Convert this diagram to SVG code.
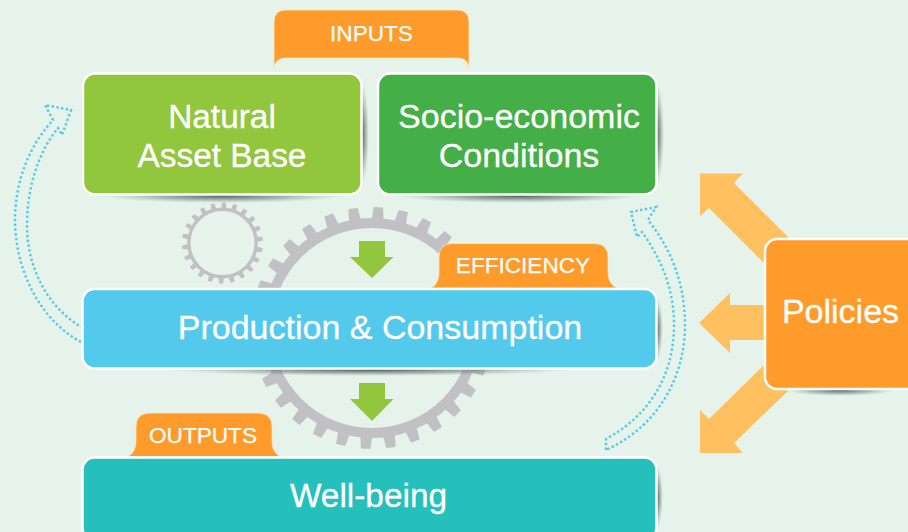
<svg xmlns="http://www.w3.org/2000/svg" xmlns:xlink="http://www.w3.org/1999/xlink" width="908" height="532" viewBox="0 0 908 532">
<style>
.box{stroke:#fff;stroke-width:2.5}
.tab{fill:#ff9b2b;stroke:#f7e6c8;stroke-width:.8}
.big{font:34px "Liberation Sans",Arial,sans-serif;fill:#fff;stroke:#fff;stroke-width:.3;text-anchor:middle}
.mid{font-size:33.4px}
.small{font:22.6px "Liberation Sans",Arial,sans-serif;fill:#fff;stroke:#fff;stroke-width:.25;text-anchor:middle}
.gear{fill:#c1c0c4}
.ring{fill:none;stroke:#c1c0c4}
.dot{fill:none;stroke:#53c9ec;stroke-width:2.4;stroke-dasharray:2.4 2.4}
.pol{fill:#ffc05f}
.down{fill:#92c73d}
.sh{fill:url(#shade)}
</style>
<defs>
<radialGradient id="shade"><stop offset="0" stop-color="#4d5c5c" stop-opacity=".95"/><stop offset=".55" stop-color="#6b7a78" stop-opacity=".5"/><stop offset="1" stop-color="#8a9a94" stop-opacity="0"/></radialGradient>
<polygon id="t1" points="-6,-108 6,-108 4.700,-121 -4.700,-121"/>
<polygon id="t2" points="-2.500,-35 2.500,-35 2,-40.5 -2,-40.5"/>
</defs>
<rect width="908" height="532" fill="#e6f3ea"/>
<g id="gear-small">
<circle class="ring" cx="222.5" cy="243" r="33.7" stroke-width="3.4"/>
<g class="gear" transform="translate(222.5 243)">
<use xlink:href="#t2" transform="rotate(2)"/><use xlink:href="#t2" transform="rotate(18.4)"/><use xlink:href="#t2" transform="rotate(34.7)"/><use xlink:href="#t2" transform="rotate(51)"/><use xlink:href="#t2" transform="rotate(67.5)"/><use xlink:href="#t2" transform="rotate(83.8)"/><use xlink:href="#t2" transform="rotate(100.2)"/><use xlink:href="#t2" transform="rotate(116.5)"/><use xlink:href="#t2" transform="rotate(133)"/><use xlink:href="#t2" transform="rotate(149.3)"/><use xlink:href="#t2" transform="rotate(165.6)"/><use xlink:href="#t2" transform="rotate(182)"/><use xlink:href="#t2" transform="rotate(198.4)"/><use xlink:href="#t2" transform="rotate(214.7)"/><use xlink:href="#t2" transform="rotate(231)"/><use xlink:href="#t2" transform="rotate(247.5)"/><use xlink:href="#t2" transform="rotate(263.8)"/><use xlink:href="#t2" transform="rotate(280.2)"/><use xlink:href="#t2" transform="rotate(296.5)"/><use xlink:href="#t2" transform="rotate(313)"/><use xlink:href="#t2" transform="rotate(329.3)"/><use xlink:href="#t2" transform="rotate(345.6)"/>
</g>
</g>
<g id="gear-large">
<circle class="ring" cx="372" cy="328" r="105" stroke-width="10"/>
<g class="gear" transform="translate(372 328)">
<use xlink:href="#t1" transform="rotate(3)"/><use xlink:href="#t1" transform="rotate(15)"/><use xlink:href="#t1" transform="rotate(27)"/><use xlink:href="#t1" transform="rotate(39)"/><use xlink:href="#t1" transform="rotate(51)"/><use xlink:href="#t1" transform="rotate(63)"/><use xlink:href="#t1" transform="rotate(75)"/><use xlink:href="#t1" transform="rotate(87)"/><use xlink:href="#t1" transform="rotate(99)"/><use xlink:href="#t1" transform="rotate(111)"/><use xlink:href="#t1" transform="rotate(123)"/><use xlink:href="#t1" transform="rotate(135)"/><use xlink:href="#t1" transform="rotate(147)"/><use xlink:href="#t1" transform="rotate(159)"/><use xlink:href="#t1" transform="rotate(171)"/><use xlink:href="#t1" transform="rotate(183)"/><use xlink:href="#t1" transform="rotate(195)"/><use xlink:href="#t1" transform="rotate(207)"/><use xlink:href="#t1" transform="rotate(219)"/><use xlink:href="#t1" transform="rotate(231)"/><use xlink:href="#t1" transform="rotate(243)"/><use xlink:href="#t1" transform="rotate(255)"/><use xlink:href="#t1" transform="rotate(267)"/><use xlink:href="#t1" transform="rotate(279)"/><use xlink:href="#t1" transform="rotate(291)"/><use xlink:href="#t1" transform="rotate(303)"/><use xlink:href="#t1" transform="rotate(315)"/><use xlink:href="#t1" transform="rotate(327)"/><use xlink:href="#t1" transform="rotate(339)"/><use xlink:href="#t1" transform="rotate(351)"/>
</g>
</g>
<g id="connectors">
<path class="dot" d="M81,342 C40,320 15,270 15,220 C15,180 30,145 53,120 L45,105 L71,110 L62,135 L58,128 C40,150 27,185 27,225 C27,265 45,305 81,327"/>
<path class="dot" d="M606,450 L606,439 C650,415 674,375 674,325 C674,290 662,260 642,232 L637,237 L631,212 L656,207 L648,220 C672,250 685,285 685,325 C685,375 660,425 606,450"/>
<polygon class="pol" points="700,173.5 743,173.5 734,183 788,237 763,262 709,208 700,216"/>
<polygon class="pol" points="699,323 730,293 730,305 770,305 770,340 730,340 730,353"/>
<polygon class="pol" points="700,453 743,453 734,443 788,391 763,366 709,419 700,410"/>
<polygon class="down" points="359,241 385,241 385,257 393.500,257 372,278 350,257 359,257"/>
<polygon class="down" points="359,383 385,383 385,399 393.500,399 372,421 350,399 359,399"/>
</g>
<g id="shadows">
<ellipse class="sh" cx="222" cy="196" rx="120" ry="7"/>
<ellipse class="sh" cx="362" cy="134" rx="7" ry="52"/>
<ellipse class="sh" cx="518" cy="196" rx="120" ry="7"/>
<ellipse class="sh" cx="657" cy="134" rx="7" ry="52"/>
<ellipse class="sh" cx="370" cy="370" rx="200" ry="6"/>
<ellipse class="sh" cx="657" cy="329" rx="6" ry="32"/>
<ellipse class="sh" cx="657" cy="497" rx="6" ry="32"/>
<ellipse class="sh" cx="840" cy="390" rx="55" ry="6"/>
</g>
<g id="inputs">
<path class="tab" d="M274,70 V22 Q274,10 286,10 H457 Q469,10 469,22 V70 Q469,58 457,58 H286 Q274,58 274,70Z"/>
<text class="small" x="371.500" y="41">INPUTS</text>
</g>
<g id="efficiency">
<path class="tab" d="M431,288 Q439,284 439,272 V257 Q439,243.500 453,243.500 H594 Q608,243.500 608,257 V272 Q608,284 617,288Z"/>
<text class="small" x="523" y="273">EFFICIENCY</text>
</g>
<g id="outputs">
<path class="tab" d="M128,456.500 Q136,452 136,441 V427 Q136,413 150,413 H258 Q272,413 272,427 V441 Q272,452 280,456.500Z"/>
<text class="small" x="203" y="443">OUTPUTS</text>
</g>
<g id="natural-asset-base">
<rect class="box" x="83" y="73.500" width="278.500" height="121" rx="12" fill="#92c73d"/>
<text class="big mid" x="222" y="128">Natural</text>
<text class="big mid" x="222" y="167">Asset Base</text>
</g>
<g id="socio-economic-conditions">
<rect class="box" x="378" y="73.500" width="278.500" height="121" rx="12" fill="#45af47"/>
<text class="big" x="519" y="128">Socio-economic</text>
<text class="big" x="519" y="167">Conditions</text>
</g>
<g id="production-consumption">
<rect class="box" x="82.500" y="289" width="574" height="79.500" rx="12" fill="#53c9ec"/>
<text class="big" x="380" y="339">Production &amp; Consumption</text>
</g>
<g id="well-being">
<rect class="box" x="82.500" y="457.500" width="574" height="82" rx="12" fill="#25bfbc"/>
<text class="big mid" x="368.500" y="507">Well-being</text>
</g>
<g id="policies">
<rect class="box" x="765" y="239" width="160" height="150" rx="12" fill="#ff9b2b"/>
<text class="big" x="840.500" y="323">Policies</text>
</g>
</svg>
